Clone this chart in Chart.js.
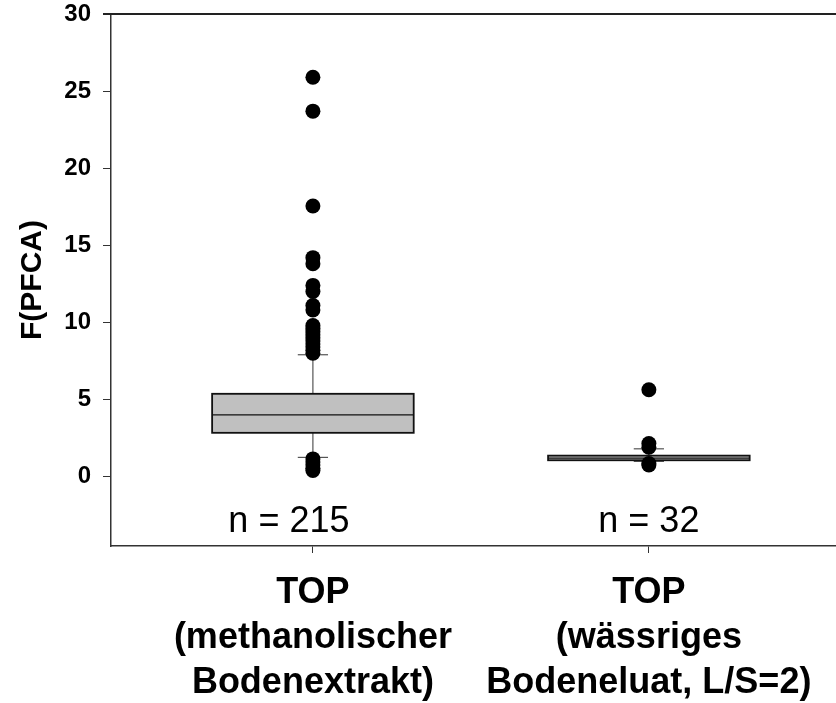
<!DOCTYPE html>
<html>
<head>
<meta charset="utf-8">
<script src="https://cdn.jsdelivr.net/npm/chart.js@4/dist/chart.umd.min.js"></script>
<style>
  html, body { margin: 0; padding: 0; background: #fff; }
  #wrap { width: 836px; height: 703px; position: relative; }
</style>
</head>
<body>
<div id="wrap"><canvas id="chart"></canvas></div>
<script>
// Data
const groupPos = [1, 2];
const groupLabels = [
    ['TOP', '(methanolischer', 'Bodenextrakt)'],
    ['TOP', '(wässriges', 'Bodeneluat, L/S=2)']
];
const nLabels = ['n = 215', 'n = 32'];
const whiskerLow = [1.25, 0.99];
const q1 = [2.84, 1.06];
const median = [4.0, 1.2];
const q3 = [5.37, 1.36];
const whiskerHigh = [7.9, 1.8];
const outliersA = [25.9, 23.7, 17.55, 14.2, 13.8, 12.4, 12.0, 11.1, 10.8,
    9.8, 9.6, 9.4, 9.2, 9.0, 8.8, 8.6, 8.4, 8.2, 8.0,
    1.15, 0.95, 0.75, 0.55, 0.4];
const outliersB = [5.63, 2.15, 1.9, 0.85, 0.75];
const yTicks = [0, 5, 10, 15, 20, 25, 30];

const FONT = '"Liberation Sans", Arial, sans-serif';

// Box + whisker drawing through the chart scales
const boxPlugin = {
    id: 'boxes',
    beforeDatasetsDraw(chart) {
        const ctx = chart.ctx;
        const xs = chart.scales.x;
        const ys = chart.scales.y;
        const half = 0.30;
        const capHalf = 0.045;
        ctx.save();
        groupPos.forEach((g, i) => {
            const cx = xs.getPixelForValue(g);
            const left = xs.getPixelForValue(g - half);
            const right = xs.getPixelForValue(g + half);
            const capL = xs.getPixelForValue(g - capHalf);
            const capR = xs.getPixelForValue(g + capHalf);
            const yQ1 = ys.getPixelForValue(q1[i]);
            const yQ3 = ys.getPixelForValue(q3[i]);
            const yMed = ys.getPixelForValue(median[i]);
            const yLo = ys.getPixelForValue(whiskerLow[i]);
            const yHi = ys.getPixelForValue(whiskerHigh[i]);

            // whiskers
            ctx.strokeStyle = '#333';
            ctx.lineWidth = 1;
            ctx.beginPath();
            ctx.moveTo(cx, yQ3); ctx.lineTo(cx, yHi);
            ctx.moveTo(cx, yQ1); ctx.lineTo(cx, yLo);
            ctx.moveTo(capL, yHi); ctx.lineTo(capR, yHi);
            ctx.moveTo(capL, yLo); ctx.lineTo(capR, yLo);
            ctx.stroke();

            // box
            ctx.fillStyle = '#c0c0c0';
            ctx.fillRect(left, yQ3, right - left, yQ1 - yQ3);
            ctx.strokeStyle = '#111';
            ctx.lineWidth = 1.8;
            ctx.strokeRect(left, yQ3, right - left, yQ1 - yQ3);

            // median
            ctx.lineWidth = 1.2;
            ctx.beginPath();
            ctx.moveTo(left, yMed); ctx.lineTo(right, yMed);
            ctx.stroke();
        });
        ctx.restore();
    },
    afterDraw(chart) {
        const ctx = chart.ctx;
        const xs = chart.scales.x;
        const ys = chart.scales.y;
        const area = chart.chartArea;
        const nShift = [-24, 0]; // first count label sits a bit left of its box
        ctx.save();
        // top frame line
        ctx.strokeStyle = '#222';
        ctx.lineWidth = 2;
        ctx.beginPath();
        ctx.moveTo(area.left - 8, area.top);
        ctx.lineTo(area.right, area.top);
        ctx.stroke();
        // n = labels
        ctx.fillStyle = '#000';
        ctx.font = '36px ' + FONT;
        ctx.textAlign = 'center';
        ctx.textBaseline = 'middle';
        groupPos.forEach((g, i) => {
            ctx.fillText(nLabels[i], xs.getPixelForValue(g) + nShift[i], ys.getPixelForValue(-2.95));
        });
        ctx.restore();
    }
};

const scatterData = outliersA.map(v => ({ x: groupPos[0], y: v }))
    .concat(outliersB.map(v => ({ x: groupPos[1], y: v })));

new Chart(document.getElementById('chart'), {
    type: 'scatter',
    data: {
        datasets: [{
            data: scatterData,
            pointRadius: 7.5,
            pointHoverRadius: 7.5,
            backgroundColor: '#000',
            borderColor: '#000',
            borderWidth: 0
        }]
    },
    options: {
        responsive: true,
        maintainAspectRatio: false,
        animation: false,
        layout: { autoPadding: false, padding: { top: 14, right: 0, left: 0, bottom: 0 } },
        plugins: {
            legend: { display: false },
            tooltip: { enabled: false }
        },
        scales: {
            x: {
                type: 'linear',
                min: 0.399,
                max: 2.557,
                afterBuildTicks(scale) {
                    scale.ticks = groupPos.map(v => ({ value: v }));
                },
                afterFit(scale) {
                    scale.height = 157;
                    scale.paddingLeft = 0;
                    scale.paddingRight = 0;
                },
                grid: { drawOnChartArea: false, drawTicks: true, tickLength: 7, color: '#333' },
                border: { display: true, color: '#333', width: 1.5 },
                ticks: {
                    color: '#000',
                    padding: 18,
                    maxRotation: 0,
                    autoSkip: false,
                    font: { family: FONT, size: 36, weight: 'bold', lineHeight: 1.25 },
                    callback(value) {
                        const i = groupPos.indexOf(value);
                        return i >= 0 ? groupLabels[i] : '';
                    }
                }
            },
            y: {
                min: -4.5,
                max: 30,
                afterBuildTicks(scale) {
                    scale.ticks = yTicks.map(v => ({ value: v }));
                },
                afterFit(scale) {
                    scale.width = 111;
                    scale.paddingTop = 0;
                    scale.paddingBottom = 0;
                },
                grid: { drawOnChartArea: false, drawTicks: true, tickLength: 8, color: '#333' },
                border: { display: true, color: '#333', width: 1.5 },
                title: {
                    display: true,
                    text: 'F(PFCA)',
                    color: '#000',
                    font: { family: FONT, size: 30, weight: 'bold' },
                    padding: { top: 15, bottom: 0 }
                },
                ticks: {
                    color: '#000',
                    padding: 12,
                    font: { family: FONT, size: 24, weight: 'bold' }
                }
            }
        }
    },
    plugins: [boxPlugin]
});
</script>
</body>
</html>
